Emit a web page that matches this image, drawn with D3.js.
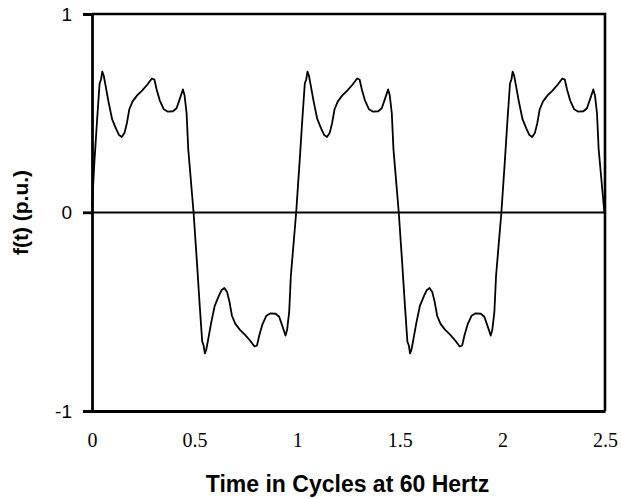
<!DOCTYPE html>
<html>
<head>
<meta charset="utf-8">
<script src="https://cdn.jsdelivr.net/npm/d3@7"></script>
<style>
  html, body { margin: 0; padding: 0; background: #fff; }
  svg { display: block; }
  .xlab text { font-family: "Liberation Serif", "Times New Roman", "DejaVu Serif", serif !important; }
</style>
</head>
<body>
<svg id="chart" width="621" height="499"></svg>
<script>
// ---- data ----
const timeCycles = [
  0.000, 0.012, 0.025, 0.037, 0.044, 0.050, 0.057, 0.066, 0.080, 0.098, 0.118, 0.132, 0.145, 0.158, 0.170, 0.182, 0.198, 0.220, 0.245, 0.270, 0.292, 0.304, 0.315, 0.330, 0.350, 0.370, 0.395, 0.412, 0.427, 0.443, 0.451, 0.461, 0.469,
  0.495, 0.512, 0.525, 0.537, 0.544, 0.550, 0.557, 0.566, 0.580, 0.598, 0.618, 0.632, 0.645, 0.658, 0.670, 0.682, 0.698, 0.720, 0.745, 0.770, 0.792, 0.804, 0.815, 0.830, 0.850, 0.870, 0.895, 0.912, 0.927, 0.943, 0.951, 0.961, 0.969,
  0.995, 1.012, 1.025, 1.037, 1.044, 1.050, 1.057, 1.066, 1.080, 1.098, 1.118, 1.132, 1.145, 1.158, 1.170, 1.182, 1.198, 1.220, 1.245, 1.270, 1.292, 1.304, 1.315, 1.330, 1.350, 1.370, 1.395, 1.412, 1.427, 1.443, 1.451, 1.461, 1.469,
  1.495, 1.512, 1.525, 1.537, 1.544, 1.550, 1.557, 1.566, 1.580, 1.598, 1.618, 1.632, 1.645, 1.658, 1.670, 1.682, 1.698, 1.720, 1.745, 1.770, 1.792, 1.804, 1.815, 1.830, 1.850, 1.870, 1.895, 1.912, 1.927, 1.943, 1.951, 1.961, 1.969,
  1.995, 2.012, 2.025, 2.037, 2.044, 2.050, 2.057, 2.066, 2.080, 2.098, 2.118, 2.132, 2.145, 2.158, 2.170, 2.182, 2.198, 2.220, 2.245, 2.270, 2.292, 2.304, 2.315, 2.330, 2.350, 2.370, 2.395, 2.412, 2.427, 2.443, 2.451, 2.461, 2.469,
  2.497
];
const ftValues = [
  0.03, 0.26, 0.47, 0.65, 0.67, 0.71, 0.69, 0.64, 0.56, 0.47, 0.42, 0.39, 0.38, 0.40, 0.45, 0.52, 0.56, 0.59, 0.615, 0.645, 0.675, 0.67, 0.62, 0.565, 0.52, 0.508, 0.51, 0.525, 0.57, 0.62, 0.59, 0.50, 0.32,
  0.00, -0.26, -0.47, -0.65, -0.67, -0.71, -0.69, -0.64, -0.56, -0.47, -0.42, -0.39, -0.38, -0.40, -0.45, -0.52, -0.56, -0.59, -0.615, -0.645, -0.675, -0.67, -0.62, -0.565, -0.52, -0.508, -0.51, -0.525, -0.57, -0.62, -0.59, -0.50, -0.32,
  0.00, 0.26, 0.47, 0.65, 0.67, 0.71, 0.69, 0.64, 0.56, 0.47, 0.42, 0.39, 0.38, 0.40, 0.45, 0.52, 0.56, 0.59, 0.615, 0.645, 0.675, 0.67, 0.62, 0.565, 0.52, 0.508, 0.51, 0.525, 0.57, 0.62, 0.59, 0.50, 0.32,
  0.00, -0.26, -0.47, -0.65, -0.67, -0.71, -0.69, -0.64, -0.56, -0.47, -0.42, -0.39, -0.38, -0.40, -0.45, -0.52, -0.56, -0.59, -0.615, -0.645, -0.675, -0.67, -0.62, -0.565, -0.52, -0.508, -0.51, -0.525, -0.57, -0.62, -0.59, -0.50, -0.32,
  0.00, 0.26, 0.47, 0.65, 0.67, 0.71, 0.69, 0.64, 0.56, 0.47, 0.42, 0.39, 0.38, 0.40, 0.45, 0.52, 0.56, 0.59, 0.615, 0.645, 0.675, 0.67, 0.62, 0.565, 0.52, 0.508, 0.51, 0.525, 0.57, 0.62, 0.59, 0.50, 0.32,
  0.00
];
const xTicks = [0, 0.5, 1, 1.5, 2, 2.5];
const yTicks = [-1, 0, 1];
const xTitle = "Time in Cycles at 60 Hertz";
const yTitle = "f(t) (p.u.)";

// ---- layout ----
const svg = d3.select("#chart");
const plotL = 92, plotR = 605, plotT = 14, plotB = 411;

const x = d3.scaleLinear().domain([0, 2.5]).range([plotL, plotR]);
const y = d3.scaleLinear().domain([-1, 1]).range([plotB, plotT]);

const points = timeCycles.map((t, i) => [t, ftValues[i]]);

// zero line
svg.append("line")
  .attr("x1", plotL - 9).attr("x2", plotR)
  .attr("y1", y(0)).attr("y2", y(0))
  .attr("stroke", "#000").attr("stroke-width", 2);

// wave
svg.append("path")
  .datum(points)
  .attr("fill", "none")
  .attr("stroke", "#000")
  .attr("stroke-width", 1.8)
  .attr("stroke-linejoin", "round")
  .attr("d", d3.line().x(d => x(d[0])).y(d => y(d[1])));

// frame (top & right)
svg.append("path")
  .attr("d", `M${plotL},${plotT}H${plotR}V${plotB}`)
  .attr("fill", "none").attr("stroke", "#000").attr("stroke-width", 2.6);

// y axis
const yAxis = d3.axisLeft(y).tickValues(yTicks).tickSize(9).tickPadding(11)
  .tickFormat(d => String(d));
const gy = svg.append("g").attr("transform", `translate(${plotL},0)`).call(yAxis);
gy.select(".domain").attr("stroke-width", 2.8);
gy.selectAll(".tick line").attr("stroke-width", 2.4);
gy.selectAll("text")
  .style("font-family", "'Liberation Sans', Arial, sans-serif")
  .style("font-size", "19px").attr("fill", "#000");

// x axis
const xAxis = d3.axisBottom(x).tickValues(xTicks).tickSize(0).tickPadding(22)
  .tickFormat(d => String(d));
const gx = svg.append("g").attr("class", "xlab")
  .attr("transform", `translate(0,${plotB})`).call(xAxis)
  .attr("font-family", null);
gx.select(".domain").attr("stroke-width", 2.8);
gx.selectAll("text")
  .style("font-family", "'Liberation Serif', 'Times New Roman', serif")
  .style("font-size", "20px").attr("fill", "#000");

// titles
svg.append("text")
  .attr("x", (plotL + plotR) / 2 - 1).attr("y", 492)
  .attr("text-anchor", "middle")
  .style("font-family", "'Liberation Sans', Arial, sans-serif")
  .style("font-weight", "bold").style("font-size", "23px")
  .text(xTitle);

svg.append("text")
  .attr("transform", `translate(28,${(plotT + plotB) / 2}) rotate(-90)`)
  .attr("text-anchor", "middle")
  .style("font-family", "'Liberation Sans', Arial, sans-serif")
  .style("font-weight", "bold").style("font-size", "21px")
  .text(yTitle);
</script>
</body>
</html>
